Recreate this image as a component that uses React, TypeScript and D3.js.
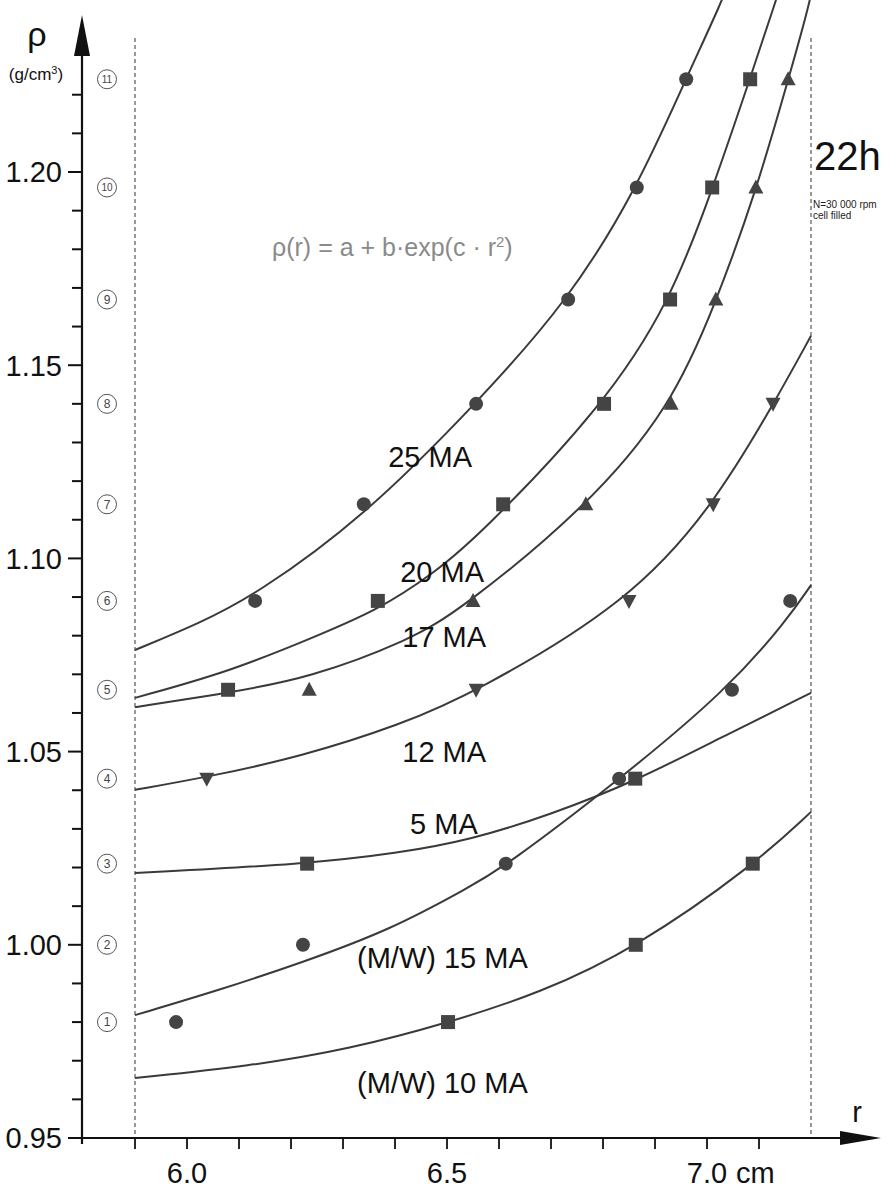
import React from "react";
import * as d3 from "d3";

// ---- data ----
const layerNumbers = [1, 2, 3, 4, 5, 6, 7, 8, 9, 10, 11];
const layerDensity = [0.98, 1.0, 1.021, 1.043, 1.066, 1.089, 1.114, 1.14, 1.167, 1.196, 1.224];

const yTicksMajor = [0.95, 1.0, 1.05, 1.1, 1.15, 1.2];
const yTickLabels = ["0.95", "1.00", "1.05", "1.10", "1.15", "1.20"];
const xTickLabels = [
  { v: 6.0, t: "6.0" },
  { v: 6.5, t: "6.5" },
  { v: 7.0, t: "7.0" },
];

// fitted curves (r, rho)
const curve25: [number, number][] = [
  [5.9, 1.0763], [6.025, 1.0833], [6.131, 1.0905], [6.34, 1.1107], [6.556, 1.14],
  [6.733, 1.1666], [6.865, 1.1956], [6.96, 1.2243], [7.03, 1.2445], [7.05, 1.252],
];
const curve20: [number, number][] = [
  [5.9, 1.0639], [6.079, 1.0706], [6.231, 1.0789], [6.367, 1.0866], [6.473, 1.096],
  [6.563, 1.106], [6.802, 1.1397], [6.929, 1.1664], [7.01, 1.1953], [7.083, 1.2243],
  [7.133, 1.2445], [7.15, 1.252],
];
const curve17: [number, number][] = [
  [5.9, 1.0615], [6.079, 1.0652], [6.235, 1.069], [6.429, 1.0789], [6.525, 1.0866],
  [6.767, 1.113], [6.931, 1.1392], [7.017, 1.1661], [7.094, 1.1948], [7.156, 1.2238],
  [7.194, 1.2419], [7.21, 1.252],
];
const curve12: [number, number][] = [
  [5.9, 1.0401], [6.038, 1.0434], [6.217, 1.0486], [6.41, 1.0569], [6.556, 1.0654],
  [6.85, 1.0887], [7.012, 1.1136], [7.127, 1.1397], [7.2, 1.1576],
];
const curve5: [number, number][] = [
  [5.9, 1.0186], [6.231, 1.0209], [6.41, 1.0238], [6.544, 1.0271], [6.698, 1.0336],
  [6.863, 1.0424], [7.025, 1.0535], [7.2, 1.0652],
];
const curve15: [number, number][] = [
  [5.9, 0.9818], [6.063, 0.9883], [6.223, 0.9955], [6.39, 1.0038], [6.544, 1.015],
  [6.613, 1.0204], [6.831, 1.0427], [7.038, 1.0659], [7.154, 1.0841], [7.2, 1.0931],
];
const curve10: [number, number][] = [
  [5.9, 0.9655], [6.121, 0.9686], [6.313, 0.973], [6.502, 0.9798], [6.679, 0.9875],
  [6.863, 0.9992], [7.088, 1.0204], [7.2, 1.0344],
];

// measured points: radius r at successive gradient layers (starting layer number)
const pts25 = { shape: "circle", start: 6, r: [6.131, 6.34, 6.556, 6.733, 6.865, 6.96] };
const pts20 = { shape: "square", start: 5, r: [6.079, 6.367, 6.608, 6.802, 6.929, 7.01, 7.083] };
const pts17 = { shape: "tri", start: 5, r: [6.235, 6.55, 6.767, 6.931, 7.017, 7.094, 7.156] };
const pts12 = { shape: "down", start: 4, r: [6.038, 6.556, 6.85, 7.012, 7.127] };
const pts5 = { shape: "square", start: 3, r: [6.231, 6.862] };
const pts15 = { shape: "circle", start: 1, r: [5.979, 6.223, 6.613, 6.831, 7.048, 7.16] };
const pts10 = { shape: "square", start: 1, r: [6.502, 6.863, 7.088] };

const curveLabels = [
  { t: "25 MA", r: 6.387, v: 1.1237 },
  { t: "20 MA", r: 6.41, v: 1.0939 },
  { t: "17 MA", r: 6.414, v: 1.0771 },
  { t: "12 MA", r: 6.414, v: 1.0473 },
  { t: "5 MA", r: 6.429, v: 1.0287 },
  { t: "(M/W) 15 MA", r: 6.327, v: 0.994 },
  { t: "(M/W) 10 MA", r: 6.327, v: 0.9616 },
];

const W = 894;
const H = 1192;
const FONT = "'Liberation Sans', Arial, Helvetica, sans-serif";
const INK = "#3a3a3a";

export default function App() {
  const x = d3.scaleLinear().domain([5.8, 7.2]).range([83, 811]);
  const y = d3.scaleLinear().domain([0.95, 1.2]).range([1138, 172]);
  const line = d3
    .line<[number, number]>()
    .x((d) => x(d[0]))
    .y((d) => y(d[1]))
    .curve(d3.curveBasis);

  const curves = [curve25, curve20, curve17, curve12, curve5, curve15, curve10];
  const pointSets = [pts25, pts20, pts17, pts12, pts5, pts15, pts10];

  const minorY = d3.range(96, 123).map((k) => k / 100).filter((v) => Math.abs(v * 20 - Math.round(v * 20)) > 1e-6);
  const xMinor = d3.range(59, 72).map((k) => k / 10);
  const axisX = x(5.8) - 1;
  const axisY = y(0.95);

  const marker = (shape: string, cx: number, cy: number, key: string) => {
    if (shape === "circle") return <circle key={key} cx={cx} cy={cy} r={7} fill="#444" />;
    if (shape === "square")
      return <rect key={key} x={cx - 7} y={cy - 7} width={14} height={14} fill="#444" />;
    if (shape === "tri")
      return <path key={key} d={`M${cx},${cy - 8} L${cx + 7.5},${cy + 6} L${cx - 7.5},${cy + 6} Z`} fill="#444" />;
    return <path key={key} d={`M${cx},${cy + 8} L${cx + 7.5},${cy - 6} L${cx - 7.5},${cy - 6} Z`} fill="#444" />;
  };

  return (
    <svg
      width={W}
      height={H}
      style={{ position: "absolute", left: 0, top: 0, background: "#fff" }}
      fontFamily={FONT}
    >
      <rect x={0} y={0} width={W} height={H} fill="#fff" />
      {/* dashed cell boundaries */}
      {[5.9, 7.2].map((r) => (
        <line key={r} x1={x(r)} x2={x(r)} y1={38} y2={axisY} stroke="#333" strokeWidth={1} strokeDasharray="4,3" />
      ))}

      {/* y axis */}
      <line x1={axisX} x2={axisX} y1={axisY + 6} y2={50} stroke="#111" strokeWidth={2.2} />
      <path d={`M${axisX},15 L${axisX + 8},56 L${axisX - 8},56 Z`} fill="#111" />
      {yTicksMajor.map((v, i) => (
        <g key={v}>
          <line x1={axisX - 14} x2={axisX} y1={y(v)} y2={y(v)} stroke="#111" strokeWidth={2} />
          <text x={62} y={y(v)} dy="0.36em" textAnchor="end" fontSize={29} fill="#111">
            {yTickLabels[i]}
          </text>
        </g>
      ))}
      {minorY.map((v) => (
        <line key={v} x1={axisX - 10} x2={axisX} y1={y(v)} y2={y(v)} stroke="#111" strokeWidth={2} />
      ))}
      <text x={37} y={46} textAnchor="middle" fontSize={34} fill="#111">ρ</text>
      <text x={36} y={80} textAnchor="middle" fontSize={17} fill="#111">
        (g/cm<tspan dy="-6" fontSize={11}>3</tspan><tspan dy="6">)</tspan>
      </text>

      {/* x axis */}
      <line x1={axisX - 14} x2={848} y1={axisY} y2={axisY} stroke="#111" strokeWidth={2.2} />
      <path d={`M881,${axisY} L840,${axisY - 7} L840,${axisY + 7} Z`} fill="#111" />
      {xMinor.map((r) => (
        <line key={r} x1={x(r)} x2={x(r)} y1={axisY} y2={axisY + 11} stroke="#111" strokeWidth={1.8} />
      ))}
      <line x1={axisX} x2={axisX} y1={axisY} y2={axisY + 6} stroke="#111" strokeWidth={1.8} />
      {xTickLabels.map((d) => (
        <text key={d.t} x={x(d.v)} y={1183} textAnchor="middle" fontSize={29} fill="#111">
          {d.t}
        </text>
      ))}
      <text x={x(7.0) + 29} y={1183} textAnchor="start" fontSize={29} fill="#111">cm</text>
      <text x={857} y={1122} textAnchor="middle" fontSize={29} fill="#111">r</text>

      {/* layer numbers */}
      {layerNumbers.map((n, i) => (
        <g key={n}>
          <circle cx={107} cy={y(layerDensity[i])} r={9.5} fill="none" stroke="#555" strokeWidth={1} />
          <text x={107} y={y(layerDensity[i])} dy="0.36em" textAnchor="middle" fontSize={n > 9 ? 10 : 12} fill="#444">
            {n}
          </text>
        </g>
      ))}

      {/* curves */}
      <g>
        {curves.map((c, i) => (
          <path key={i} d={line(c) || ""} fill="none" stroke={INK} strokeWidth={2} />
        ))}
      </g>

      {/* markers */}
      {pointSets.map((s, si) =>
        s.r.map((r, j) => marker(s.shape, x(r), y(layerDensity[s.start - 1 + j]), `${si}-${j}`))
      )}

      {/* curve labels */}
      {curveLabels.map((l) => (
        <text key={l.t} x={x(l.r)} y={y(l.v)} fontSize={29} fill="#111">
          {l.t}
        </text>
      ))}

      {/* formula and annotations */}
      <text x={272} y={256} fontSize={25} fill="#8a8a8a">
        ρ(r) = a + b·exp(c · r<tspan dy="-9" fontSize={15}>2</tspan><tspan dy="9">)</tspan>
      </text>
      <text x={814} y={170} fontSize={40} fill="#111">22h</text>
      <text x={813} y={208} fontSize={10} fill="#222">N=30 000 rpm</text>
      <text x={813} y={219} fontSize={10} fill="#222">cell filled</text>
    </svg>
  );
}
